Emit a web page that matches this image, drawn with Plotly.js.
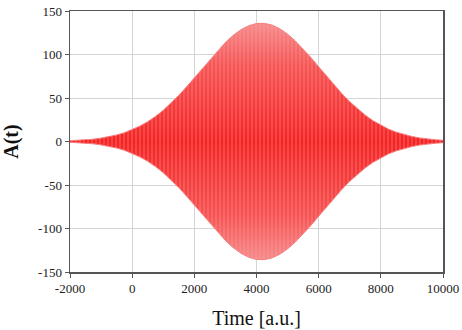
<!DOCTYPE html>
<html>
<head>
<meta charset="utf-8">
<script src="https://cdn.plot.ly/plotly-3.0.1.min.js"></script>
<style>html,body{margin:0;padding:0;background:#fff;}#chart{width:462px;height:330px;}</style>
</head>
<body>
<div id="chart"></div>
<script>
var timeValues = [-2000,-1750,-1500,-1250,-1000,-750,-500,-250,0,250,500,750,1000,1250,1500,1750,2000,2250,2500,2750,3000,3250,3500,3750,4000,4250,4500,4750,5000,5250,5500,5750,6000,6250,6500,6750,7000,7250,7500,7750,8000,8250,8500,8750,9000,9250,9500,9750,10000];
var upperEnvelope = [0.9,1.3,1.9,2.7,3.9,5.4,7.5,10.1,13.5,17.7,22.8,28.8,35.9,44.0,53.0,62.8,73.1,83.8,94.4,104.5,113.9,122.0,128.5,133.1,135.6,135.8,133.8,129.6,123.4,115.6,106.5,96.5,85.9,75.2,64.8,54.9,45.7,37.4,30.2,23.9,18.6,14.2,10.7,8.0,5.8,4.1,2.9,2.0,1.4];
var lowerEnvelope = [-0.9,-1.3,-1.9,-2.7,-3.9,-5.4,-7.5,-10.1,-13.5,-17.7,-22.8,-28.8,-35.9,-44.0,-53.0,-62.8,-73.1,-83.8,-94.4,-104.5,-113.9,-122.0,-128.5,-133.1,-135.6,-135.8,-133.8,-129.6,-123.4,-115.6,-106.5,-96.5,-85.9,-75.2,-64.8,-54.9,-45.7,-37.4,-30.2,-23.9,-18.6,-14.2,-10.7,-8.0,-5.8,-4.1,-2.9,-2.0,-1.4];
var xTickVals = [-2000,0,2000,4000,6000,8000,10000];
var xTickText = ['-2000','0','2000','4000','6000','8000','10000'];
var yTickVals = [-150,-100,-50,0,50,100,150];
var yTickText = ['-150','-100','-50','0','50','100','150'];

var serif = 'Liberation Serif, Times New Roman, serif';
var edgeLine = {color: 'rgba(245,125,125,1)', width: 1};

var traces = [
  {x: timeValues, y: lowerEnvelope, type: 'scatter', mode: 'lines',
   line: edgeLine, hoverinfo: 'skip', showlegend: false},
  {x: timeValues, y: upperEnvelope, type: 'scatter', mode: 'lines', fill: 'tonexty',
   fillcolor: 'rgb(245,60,60)',
   fillgradient: {type: 'vertical', start: -136, stop: 136,
     colorscale: [[0,'rgb(246,140,140)'],[0.18,'rgb(246,85,85)'],[0.5,'rgb(244,36,36)'],[0.82,'rgb(246,85,85)'],[1,'rgb(246,140,140)']]},
   line: edgeLine, hoverinfo: 'skip', showlegend: false},
  // vertical streak texture of the fast oscillation
  {x: timeValues, y: lowerEnvelope, type: 'scatter', mode: 'lines',
   line: {width: 0, color: 'rgba(0,0,0,0)'}, hoverinfo: 'skip', showlegend: false},
  {x: timeValues, y: upperEnvelope, type: 'scatter', mode: 'lines', fill: 'tonexty',
   fillcolor: 'rgba(0,0,0,0)',
   fillpattern: {shape: '|', fgcolor: 'rgba(255,170,170,0.45)', bgcolor: 'rgba(0,0,0,0)', size: 4, solidity: 0.25},
   line: {width: 0, color: 'rgba(0,0,0,0)'}, hoverinfo: 'skip', showlegend: false}
];

var layout = {
  width: 462, height: 330,
  margin: {l: 70, r: 19, t: 11, b: 58},
  paper_bgcolor: '#ffffff', plot_bgcolor: '#ffffff',
  font: {family: serif, color: '#222', size: 13},
  showlegend: false,
  xaxis: {
    range: [-2000, 10000], tickvals: xTickVals, ticktext: xTickText,
    showgrid: true, gridcolor: '#d4d4d4', gridwidth: 1, zeroline: false,
    showline: true, linecolor: '#555', linewidth: 1.5, mirror: true,
    ticks: 'outside', ticklen: 4, tickcolor: '#555', tickwidth: 1,
    tickfont: {family: serif, size: 13, color: '#222'},
    title: {text: 'Time [a.u.]', font: {family: serif, size: 20, color: '#111'}, standoff: 16},
    automargin: false
  },
  yaxis: {
    range: [-150, 150], tickvals: yTickVals, ticktext: yTickText,
    showgrid: true, gridcolor: '#d4d4d4', gridwidth: 1, zeroline: false,
    showline: true, linecolor: '#555', linewidth: 1.5, mirror: true,
    ticks: 'outside', ticklen: 4, tickcolor: '#555', tickwidth: 1,
    tickfont: {family: serif, size: 13, color: '#222'},
    title: {text: '<b>A(t)</b>', font: {family: serif, size: 20, color: '#111'}, standoff: 14},
    automargin: false
  }
};

Plotly.newPlot('chart', traces, layout, {displayModeBar: false, staticPlot: true});
</script>
</body>
</html>
